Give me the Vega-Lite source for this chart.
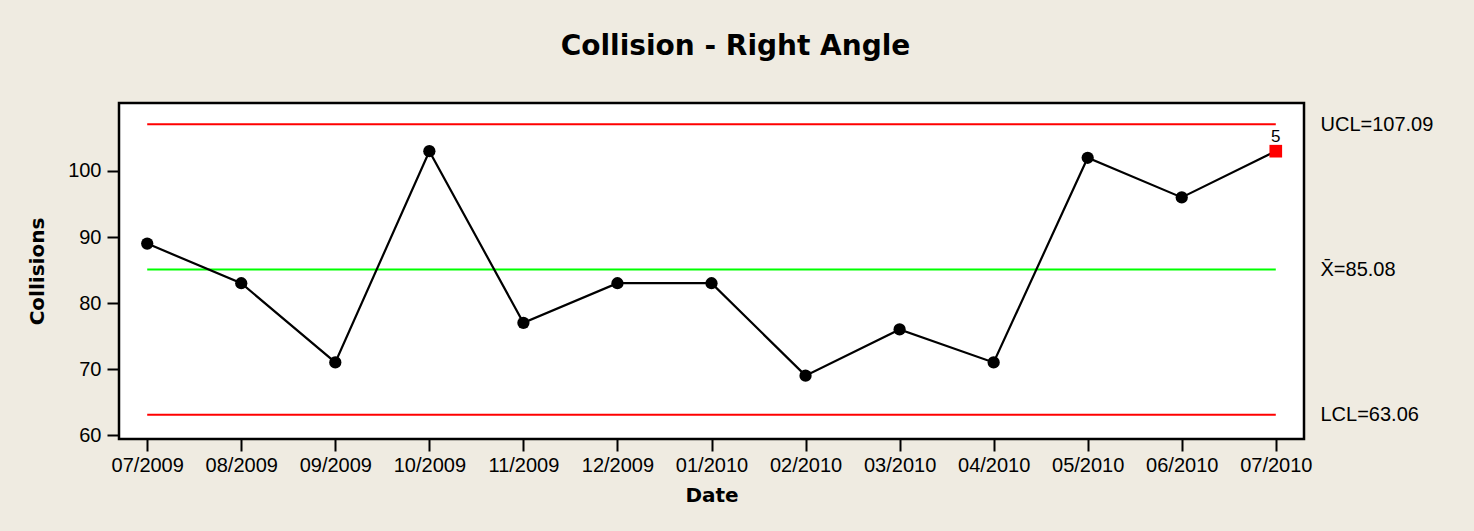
{
  "$schema": "https://vega.github.io/schema/vega-lite/v6.json",
  "width": 1185,
  "height": 336,
  "autosize": {"type": "none"},
  "padding": {"left": 119, "top": 103, "right": 170, "bottom": 92},
  "background": "#EFEBE1",
  "title": {
    "text": "Collision - Right Angle",
    "font": "DejaVu Sans",
    "fontSize": 28,
    "fontWeight": "bold",
    "color": "black",
    "anchor": "middle",
    "frame": "group",
    "baseline": "alphabetic",
    "offset": 20,
    "dx": 24
  },
  "datasets": {
    "obs": [
      {"Date": "07/2009", "Collisions": 89, "test": null},
      {"Date": "08/2009", "Collisions": 83, "test": null},
      {"Date": "09/2009", "Collisions": 71, "test": null},
      {"Date": "10/2009", "Collisions": 103, "test": null},
      {"Date": "11/2009", "Collisions": 77, "test": null},
      {"Date": "12/2009", "Collisions": 83, "test": null},
      {"Date": "01/2010", "Collisions": 83, "test": null},
      {"Date": "02/2010", "Collisions": 69, "test": null},
      {"Date": "03/2010", "Collisions": 76, "test": null},
      {"Date": "04/2010", "Collisions": 71, "test": null},
      {"Date": "05/2010", "Collisions": 102, "test": null},
      {"Date": "06/2010", "Collisions": 96, "test": null},
      {"Date": "07/2010", "Collisions": 103, "test": "5"}
    ],
    "limits": [
      {"Date": "07/2009", "limit": "UCL", "value": 107.09},
      {"Date": "07/2010", "limit": "UCL", "value": 107.09},
      {"Date": "07/2009", "limit": "Mean", "value": 85.08},
      {"Date": "07/2010", "limit": "Mean", "value": 85.08},
      {"Date": "07/2009", "limit": "LCL", "value": 63.06},
      {"Date": "07/2010", "limit": "LCL", "value": 63.06}
    ]
  },
  "config": {
    "view": {"fill": "white", "stroke": "black", "strokeWidth": 2.5},
    "axis": {
      "grid": false,
      "domain": false,
      "labelFont": "Liberation Sans",
      "labelFontSize": 20,
      "labelColor": "black",
      "titleFont": "DejaVu Sans",
      "titleFontSize": 20,
      "titleFontWeight": "bold",
      "titleColor": "black",
      "tickColor": "black",
      "tickWidth": 2,
      "tickSize": 12
    }
  },
  "layer": [
    {
      "data": {"name": "limits"},
      "mark": {"type": "line", "strokeWidth": 2},
      "encoding": {
        "x": {
          "field": "Date",
          "type": "ordinal",
          "sort": null,
          "scale": {
            "type": "point",
            "padding": 0.3,
            "domain": ["07/2009", "08/2009", "09/2009", "10/2009", "11/2009", "12/2009", "01/2010", "02/2010", "03/2010", "04/2010", "05/2010", "06/2010", "07/2010"]
          },
          "axis": {"title": "Date", "labelAngle": 0, "labelPadding": 4, "titlePadding": 10}
        },
        "y": {
          "field": "value",
          "type": "quantitative",
          "scale": {"domain": [59.4, 110.3], "nice": false, "zero": false},
          "axis": {
            "orient": "right",
            "values": [107.09, 85.08, 63.06],
            "labelExpr": "datum.value > 100 ? 'UCL=107.09' : (datum.value > 80 ? 'X̄=85.08' : 'LCL=63.06')",
            "ticks": false,
            "labelPadding": 16,
            "title": null
          }
        },
        "color": {
          "field": "limit",
          "type": "nominal",
          "scale": {"domain": ["UCL", "Mean", "LCL"], "range": ["#FF0000", "#00FF00", "#FF0000"]},
          "legend": null
        }
      }
    },
    {
      "data": {"name": "obs"},
      "mark": {"type": "line", "color": "black", "strokeWidth": 2.2},
      "encoding": {
        "x": {"field": "Date", "type": "ordinal", "sort": null},
        "y": {
          "field": "Collisions",
          "type": "quantitative",
          "axis": {
            "orient": "left",
            "values": [60, 70, 80, 90, 100],
            "title": "Collisions",
            "labelPadding": 6,
            "titlePadding": 20
          }
        }
      }
    },
    {
      "data": {"name": "obs"},
      "transform": [{"filter": "datum.test == null"}],
      "mark": {"type": "point", "shape": "circle", "filled": true, "color": "black", "size": 150, "opacity": 1},
      "encoding": {
        "x": {"field": "Date", "type": "ordinal", "sort": null},
        "y": {"field": "Collisions", "type": "quantitative", "axis": null}
      }
    },
    {
      "data": {"name": "obs"},
      "transform": [{"filter": "datum.test != null"}],
      "mark": {"type": "point", "shape": "square", "filled": true, "color": "#FF0000", "size": 160, "opacity": 1},
      "encoding": {
        "x": {"field": "Date", "type": "ordinal", "sort": null},
        "y": {"field": "Collisions", "type": "quantitative", "axis": null}
      }
    },
    {
      "data": {"name": "obs"},
      "transform": [{"filter": "datum.test != null"}],
      "mark": {"type": "text", "font": "Liberation Sans", "fontSize": 17, "color": "black", "dy": -14},
      "encoding": {
        "x": {"field": "Date", "type": "ordinal", "sort": null},
        "y": {"field": "Collisions", "type": "quantitative", "axis": null},
        "text": {"field": "test"}
      }
    }
  ],
  "resolve": {"axis": {"y": "independent"}}
}
